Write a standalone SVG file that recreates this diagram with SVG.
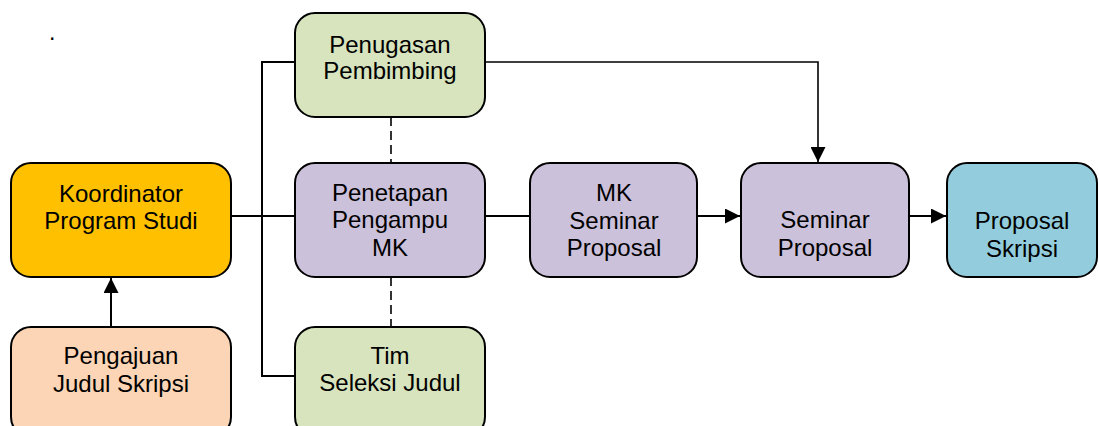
<svg xmlns="http://www.w3.org/2000/svg" width="1099" height="426" viewBox="0 0 1099 426">
<style>
.box{stroke:#000;stroke-width:2}
.lbl{font-family:"Liberation Sans",Arial,sans-serif;font-size:24px;fill:#000;text-anchor:middle}
.ln{fill:none;stroke:#000;stroke-width:2}
.dash{fill:none;stroke:#000;stroke-width:1.6;stroke-dasharray:9 5}
</style>
<defs>
<marker id="arr" viewBox="0 0 10 10" refX="10" refY="5" markerWidth="15" markerHeight="15" orient="auto" markerUnits="userSpaceOnUse">
<path d="M0,0 L10,5 L0,10 Z" fill="#000"/>
</marker>
</defs>
<rect width="1099" height="426" fill="#fff"/>
<text x="49" y="40" style="font-family:'Liberation Sans',Arial,sans-serif;font-size:23px">.</text>
<g id="connectors">
<path class="ln" d="M111,327 V278" marker-end="url(#arr)"/>
<path class="ln" d="M231,216 H295"/>
<path class="ln" d="M295,62 H262 V376 H295"/>
<path class="ln" d="M485,216 H530"/>
<path class="ln" d="M697,216 H740" marker-end="url(#arr)"/>
<path class="ln" d="M909,216 H946" marker-end="url(#arr)"/>
<path class="ln" d="M485,62 H818 V162" marker-end="url(#arr)" style="stroke-width:1.6"/>
<path class="dash" d="M391,117 V163"/>
<path class="dash" d="M391,277 V327"/>
</g>
<g id="koordinator">
<rect class="box" x="11" y="163" width="220" height="114" rx="20" fill="#FFC000"/>
<text class="lbl" x="121" y="202">Koordinator</text><text class="lbl" x="121" y="229">Program Studi</text>
</g>
<g id="pengajuan">
<rect class="box" x="11" y="327" width="220" height="110" rx="20" fill="#FBD5B5"/>
<text class="lbl" x="121" y="364">Pengajuan</text><text class="lbl" x="121" y="392">Judul Skripsi</text>
</g>
<g id="penugasan">
<rect class="box" x="295" y="13" width="190" height="104" rx="20" fill="#D7E4BD"/>
<text class="lbl" x="390" y="53">Penugasan</text><text class="lbl" x="390" y="79">Pembimbing</text>
</g>
<g id="penetapan">
<rect class="box" x="295" y="163" width="190" height="114" rx="20" fill="#CCC1DA"/>
<text class="lbl" x="390" y="201">Penetapan</text><text class="lbl" x="390" y="228">Pengampu</text><text class="lbl" x="390" y="256">MK</text>
</g>
<g id="tim">
<rect class="box" x="295" y="327" width="190" height="110" rx="20" fill="#D7E4BD"/>
<text class="lbl" x="390" y="364">Tim</text><text class="lbl" x="390" y="391">Seleksi Judul</text>
</g>
<g id="mkseminar">
<rect class="box" x="530" y="163" width="167" height="114" rx="20" fill="#CCC1DA"/>
<text class="lbl" x="614" y="201">MK</text><text class="lbl" x="614" y="229">Seminar</text><text class="lbl" x="614" y="256">Proposal</text>
</g>
<g id="seminar">
<rect class="box" x="741" y="163" width="168" height="114" rx="20" fill="#CCC1DA"/>
<text class="lbl" x="825" y="228">Seminar</text><text class="lbl" x="825" y="256">Proposal</text>
</g>
<g id="proposal">
<rect class="box" x="947" y="163" width="150" height="114" rx="20" fill="#93CDDD"/>
<text class="lbl" x="1022" y="229">Proposal</text><text class="lbl" x="1022" y="257">Skripsi</text>
</g>
</svg>
